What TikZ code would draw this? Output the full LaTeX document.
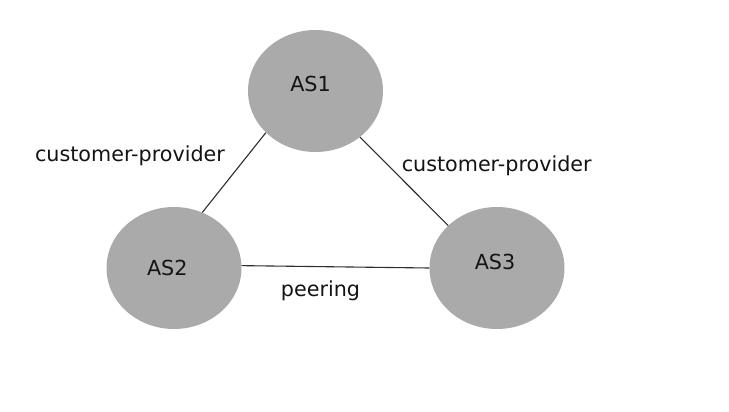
\documentclass[tikz,border=0pt]{standalone}
\usepackage{fontspec}
\setmainfont{DejaVu Sans}
\usetikzlibrary{shapes.geometric}
\definecolor{asfill}{RGB}{170,170,170}
\definecolor{linec}{RGB}{45,45,45}
\definecolor{txt}{RGB}{20,20,20}
\tikzset{
  asnode/.style={ellipse, fill=asfill, draw=none, minimum width=135pt, minimum height=122pt, inner sep=0pt},
  lbl/.style={anchor=base, inner sep=0pt, text=txt, font=\fontsize{20.7}{24}\selectfont},
  link/.style={draw=linec, line width=1.1pt}
}
\begin{document}
\begin{tikzpicture}[x=1pt,y=-1pt]
\useasboundingbox (0,0) rectangle (729,412);
\node[asnode] (AS1) at (315.5,91) {};
\node[asnode] (AS2) at (174,268) {};
\node[asnode] (AS3) at (497,268) {};
\node[lbl] (t1) at (310.5,91.7) {AS1};
\node[lbl] (t2) at (167.3,275) {AS2};
\node[lbl] (t3) at (495,269.3) {AS3};
\draw[link] (AS1.220) -- (AS2.63);
\draw[link] (AS1.314) -- (AS3.139);
\draw[link] (AS2.2.5) -- (AS3.180);
\node[lbl] (l1) at (130,161.7) {customer-provider};
\node[lbl] (l2) at (496.7,171) {customer-provider};
\node[lbl] (l3) at (320.5,296.7) {peering};
\end{tikzpicture}
\end{document}
